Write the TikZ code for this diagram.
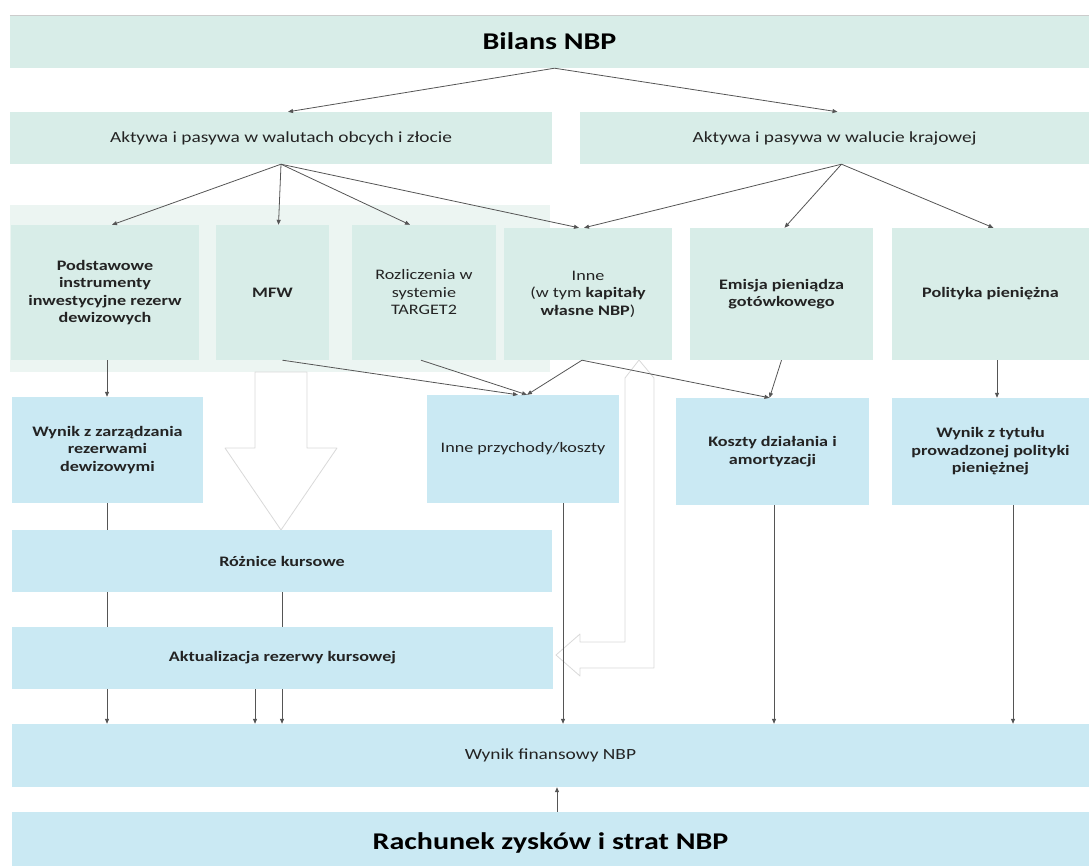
\documentclass[tikz,border=0pt]{standalone}
\usepackage{fontspec}
\setmainfont{Carlito}[FakeStretch=1.25]
\usetikzlibrary{arrows.meta}
\definecolor{boxmint}{RGB}{216,237,232}
\definecolor{boxblue}{RGB}{202,233,243}
\definecolor{panelmint}{RGB}{236,245,242}
\definecolor{linegray}{RGB}{85,85,85}
\definecolor{txtgray}{RGB}{35,35,35}

\begin{document}
\begin{tikzpicture}[
  x=1pt, y=-1pt,
  mintbox/.style={fill=boxmint, align=center, inner sep=2pt, text=txtgray, font=\fontsize{14.5}{17.5}\selectfont},
  bluebox/.style={mintbox, fill=boxblue},
  heavy/.style={font=\fontsize{14.5}{17.5}\selectfont\bfseries},
  wide/.style={font=\fontsize{15.5}{19}\selectfont},
  bigtitle/.style={font=\fontsize{24}{28}\selectfont\bfseries, text=black},
  fat/.style={fill=white, draw=black!15, line width=0.8pt, line join=round},
  link/.style={draw=linegray, line width=0.8pt, -{Triangle[length=5pt,width=4pt]}},
  plain/.style={draw=linegray, line width=0.8pt},
]
\useasboundingbox (0,0) rectangle (1089,865);

% background panel and block arrows
\fill[panelmint] (10,205) rectangle (550,372);
\draw[fat] (255,372) -- (307,372) -- (307,448) -- (337,448) -- (281,530) -- (225,448) -- (255,448) -- cycle;
\draw[fat] (639,360) -- (654,378) -- (654,668) -- (580,668) -- (580,676) -- (556,655) -- (580,634) -- (580,642) -- (625,642) -- (625,378) -- cycle;

\node[mintbox, bigtitle, minimum width=1079, minimum height=53] (bil) at (549.5,41.5) {Bilans NBP};
\draw[black!20] (bil.north west) -- (bil.north east);
\node[mintbox, wide, minimum width=542, minimum height=52] (akw) at (281,138) {Aktywa i pasywa w walutach obcych i złocie};
\node[mintbox, wide, minimum width=509, minimum height=52] (akk) at (834.5,138) {Aktywa i pasywa w walucie krajowej};

\node[mintbox, heavy, minimum width=188, minimum height=135] (pod) at (105,292.5) {Podstawowe\\instrumenty\\inwestycyjne rezerw\\dewizowych};
\node[mintbox, heavy, minimum width=113, minimum height=135] (mfw) at (272.5,292.5) {MFW};
\node[mintbox, minimum width=144, minimum height=135] (roz) at (424,292.5) {Rozliczenia w\\systemie\\TARGET2};
\node[mintbox, minimum width=168, minimum height=132] (inn) at (588,294) {Inne\\(w tym \textbf{kapitały}\\\textbf{własne NBP})};
\node[mintbox, heavy, minimum width=183, minimum height=132] (emi) at (781.5,294) {Emisja pieniądza\\gotówkowego};
\node[mintbox, heavy, minimum width=197, minimum height=132] (pol) at (990.5,294) {Polityka pieniężna};

\node[bluebox, heavy, minimum width=191, minimum height=106] (wzr) at (107.5,450) {Wynik z zarządzania\\rezerwami\\dewizowymi};
\node[bluebox, minimum width=192, minimum height=108] (ipk) at (523,449) {Inne przychody/koszty};
\node[bluebox, heavy, minimum width=193, minimum height=107] (kda) at (772.5,451.5) {Koszty działania i\\amortyzacji};
\node[bluebox, heavy, minimum width=197, minimum height=107] (wtp) at (990.5,451.5) {Wynik z tytułu\\prowadzonej polityki\\pieniężnej};

\node[bluebox, heavy, minimum width=540, minimum height=62] (rk) at (282,561) {Różnice kursowe};
\node[bluebox, heavy, minimum width=541, minimum height=62] (ark) at (282.5,658) {Aktualizacja rezerwy kursowej};
\node[bluebox, wide, minimum width=1077, minimum height=63] (wfn) at (550.5,755.5) {Wynik finansowy NBP};
\node[bluebox, bigtitle, minimum width=1077, minimum height=61] (rzs) at (550.5,842.5) {Rachunek zysków i strat NBP};

% vertical lanes
\coordinate (lA) at (107,0);
\coordinate (lB) at (255,0);
\coordinate (lC) at (282,0);
\coordinate (lD) at (563,0);
\coordinate (lE) at (774,0);
\coordinate (lF) at (1013,0);
\coordinate (lG) at (557,0);
\coordinate (lH) at (997,0);

\draw[link] ([xshift=5]bil.south) -- ([xshift=7]akw.north);
\draw[link] ([xshift=5]bil.south) -- ([xshift=3]akk.north);
\draw[link] (akw.south) -- ([xshift=7]pod.north);
\draw[link] (akw.south) -- ([xshift=6]mfw.north);
\draw[link] (akw.south) -- ([xshift=-14]roz.north);
\draw[link] (akw.south) -- ([xshift=-9]inn.north);
\draw[link] ([xshift=7]akk.south) -- ([xshift=-4]inn.north);
\draw[link] ([xshift=7]akk.south) -- ([xshift=3]emi.north);
\draw[link] ([xshift=7]akk.south) -- ([xshift=3]pol.north);

\draw[link] (pod.south -| lA) -- (wzr.north -| lA);
\draw[link] ([xshift=10]mfw.south) -- ([xshift=-5]ipk.north);
\draw[link] ([xshift=-3]roz.south) -- ([xshift=4]ipk.north);
\draw[link] ([xshift=-6]inn.south) -- ([xshift=4]ipk.north);
\draw[link] ([xshift=-6]inn.south) -- ([xshift=-3]kda.north);
\draw[link] (emi.south) -- ([xshift=-3]kda.north);
\draw[link] (pol.south -| lH) -- (wtp.north -| lH);

\draw[plain] (wzr.south -| lA) -- (rk.north -| lA);
\draw[plain] (rk.south -| lA) -- (ark.north -| lA);
\draw[plain] (rk.south -| lC) -- (ark.north -| lC);
\draw[link] (ark.south -| lA) -- (wfn.north -| lA);
\draw[link] (ark.south -| lB) -- (wfn.north -| lB);
\draw[link] (ark.south -| lC) -- (wfn.north -| lC);
\draw[link] (ipk.south -| lD) -- (wfn.north -| lD);
\draw[link] (kda.south -| lE) -- (wfn.north -| lE);
\draw[link] (wtp.south -| lF) -- (wfn.north -| lF);
\draw[link] (rzs.north -| lG) -- (wfn.south -| lG);
\end{tikzpicture}
\end{document}
